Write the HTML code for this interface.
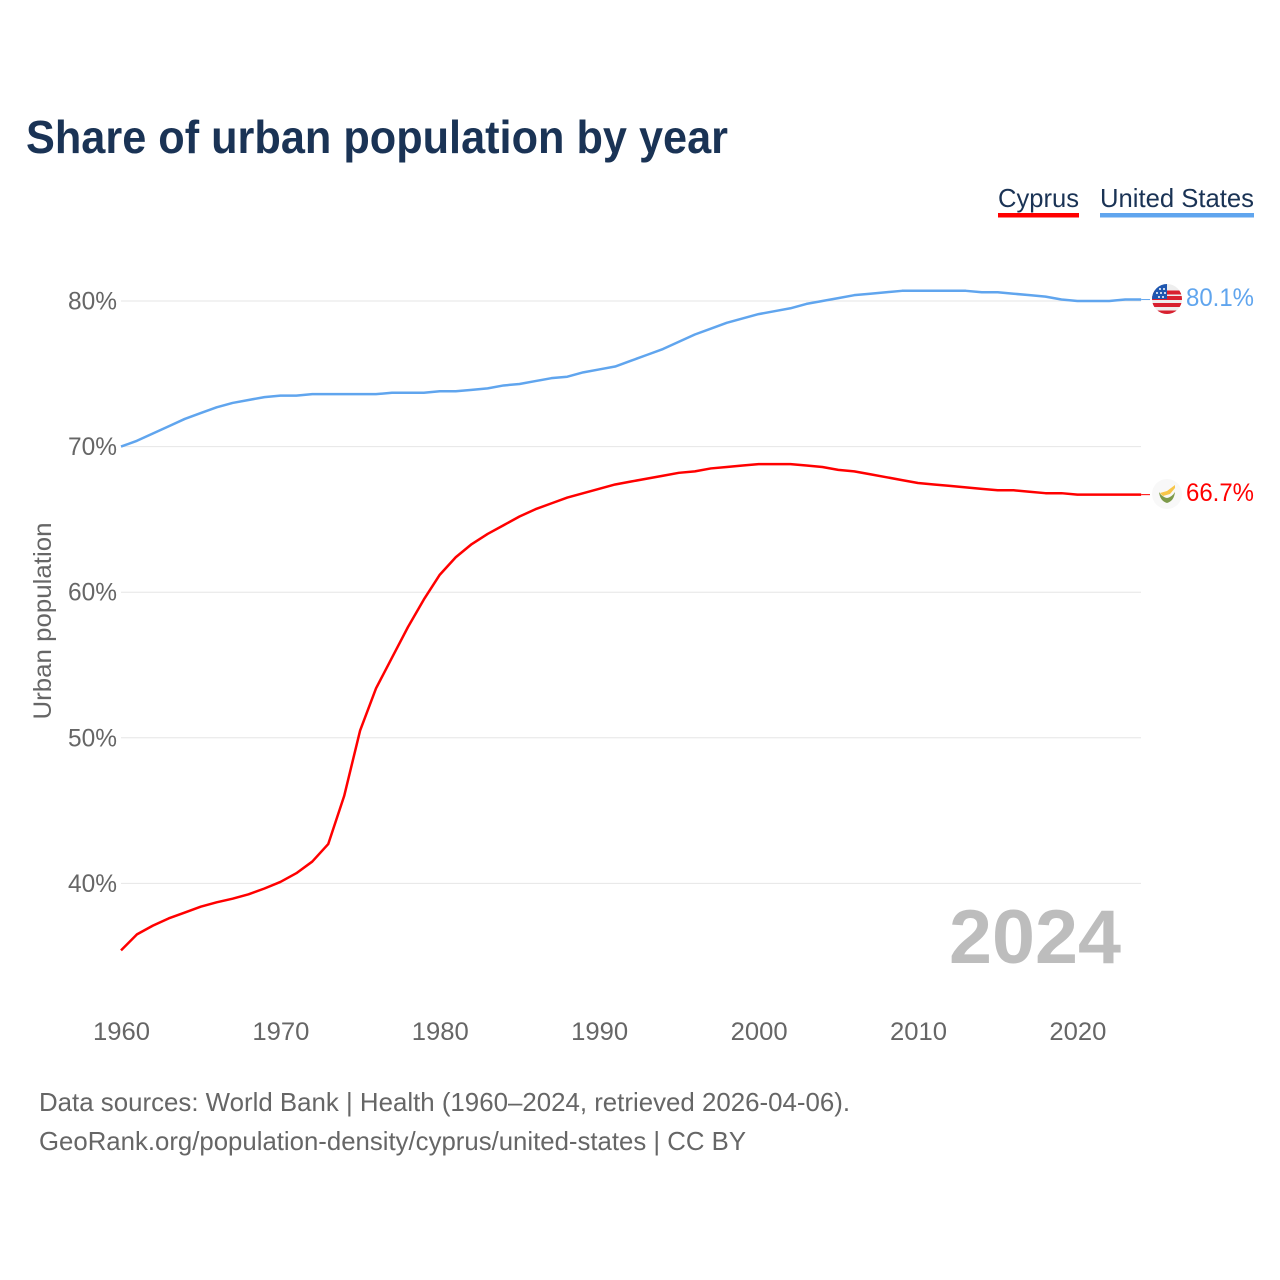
<!DOCTYPE html>
<html lang="en">
<head>
<meta charset="utf-8">
<title>Share of urban population by year</title>
<style>
html,body{margin:0;padding:0;background:#fff;}
svg{display:block;font-family:"Liberation Sans",sans-serif;}
</style>
</head>
<body>
<svg id="chart" width="1280" height="1280" viewBox="0 0 1280 1280" xmlns="http://www.w3.org/2000/svg">
  <defs>
    <clipPath id="us-clip"><circle cx="1167" cy="299" r="15"/></clipPath>
    <clipPath id="cy-clip"><circle cx="1167" cy="494" r="15"/></clipPath>
  </defs>
  <rect x="0" y="0" width="1280" height="1280" fill="#fff"/>
  <text x="26" y="153" font-size="46" font-weight="700" fill="#1a3355" textLength="702" lengthAdjust="spacingAndGlyphs">Share of urban population by year</text>

  <g>
    <text x="998" y="207" font-size="26" fill="#1a3355" textLength="81" lengthAdjust="spacingAndGlyphs">Cyprus</text>
    <rect x="998" y="213" width="81" height="4.5" fill="#ff0000"/>
  </g>
  <g>
    <text x="1100" y="207" font-size="26" fill="#1a3355" textLength="154" lengthAdjust="spacingAndGlyphs">United States</text>
    <rect x="1100" y="213" width="154" height="4.5" fill="#60a5ee"/>
  </g>

  <g id="grid"></g>
  <g id="y-labels"></g>
  <g id="x-labels"></g>
  <text transform="translate(51,621) rotate(-90)" text-anchor="middle" font-size="25" fill="#666" textLength="197" lengthAdjust="spacingAndGlyphs">Urban population</text>
  <text x="949" y="963" font-size="76" font-weight="700" fill="#bdbdbd" textLength="172" lengthAdjust="spacingAndGlyphs">2024</text>

  <g id="series"></g>

  <g clip-path="url(#us-clip)">
    <rect x="1152" y="284" width="30" height="30" fill="#eeeeee"/>
    <rect x="1152" y="290.5" width="30" height="4" fill="#d8202f"/>
    <rect x="1152" y="296" width="30" height="4" fill="#d8202f"/>
    <rect x="1152" y="303" width="30" height="4" fill="#d8202f"/>
    <rect x="1152" y="310.5" width="30" height="5" fill="#d8202f"/>
    <rect x="1152" y="284" width="15" height="15" fill="#1f57b0"/>
    <circle cx="1160" cy="289" r="1" fill="#fff"/><circle cx="1164" cy="289" r="1" fill="#fff"/>
    <circle cx="1157" cy="293" r="1" fill="#fff"/><circle cx="1161" cy="293" r="1" fill="#fff"/><circle cx="1165" cy="293" r="1" fill="#fff"/>
    <circle cx="1159" cy="297" r="1" fill="#fff"/><circle cx="1163" cy="297" r="1" fill="#fff"/>
  </g>
  <g clip-path="url(#cy-clip)">
    <rect x="1152" y="479" width="30" height="30" fill="#f8f8f8"/>
    <path d="M1160 493 L1167 491 L1175 485 L1175 488 L1170 494 L1163 496 Z" fill="#f7c64a"/>
    <path d="M1159 492 Q1160 501 1167 503 Q1174 501 1175 492 Q1172 497 1167 498 Q1162 497 1159 492 Z" fill="#7d9a4a"/>
  </g>

  <text id="us-end-label" x="1186" y="306" font-size="25" fill="#60a5ee" textLength="68" lengthAdjust="spacingAndGlyphs">80.1%</text>
  <text id="cy-end-label" x="1186" y="501" font-size="25" fill="#ff0000" textLength="68" lengthAdjust="spacingAndGlyphs">66.7%</text>

  <text x="39" y="1111" font-size="26" fill="#666" textLength="811" lengthAdjust="spacingAndGlyphs">Data sources: World Bank | Health (1960–2024, retrieved 2026-04-06).</text>
  <text x="39" y="1150" font-size="26" fill="#666" textLength="707" lengthAdjust="spacingAndGlyphs">GeoRank.org/population-density/cyprus/united-states | CC BY</text>
</svg>
<script>
const firstYear = 1960;
const xTickYears = [1960, 1970, 1980, 1990, 2000, 2010, 2020];
const yTickValues = [40, 50, 60, 70, 80];
const unitedStatesValues = [70.0,70.4,70.9,71.4,71.9,72.3,72.7,73.0,73.2,73.4,73.5,73.5,73.6,73.6,73.6,73.6,73.6,73.7,73.7,73.7,73.8,73.8,73.9,74.0,74.2,74.3,74.5,74.7,74.8,75.1,75.3,75.5,75.9,76.3,76.7,77.2,77.7,78.1,78.5,78.8,79.1,79.3,79.5,79.8,80.0,80.2,80.4,80.5,80.6,80.7,80.7,80.7,80.7,80.7,80.6,80.6,80.5,80.4,80.3,80.1,80.0,80.0,80.0,80.1,80.1];
const cyprusValues = [35.4,36.5,37.1,37.6,38.0,38.4,38.7,38.95,39.25,39.65,40.1,40.7,41.5,42.7,46.0,50.5,53.4,55.5,57.6,59.5,61.2,62.4,63.3,64.0,64.6,65.2,65.7,66.1,66.5,66.8,67.1,67.4,67.6,67.8,68.0,68.2,68.3,68.5,68.6,68.7,68.8,68.8,68.8,68.7,68.6,68.4,68.3,68.1,67.9,67.7,67.5,67.4,67.3,67.2,67.1,67.0,67.0,66.9,66.8,66.8,66.7,66.7,66.7,66.7,66.7];

const NS = 'http://www.w3.org/2000/svg';
const xScale = function (year) { return 121 + (year - 1960) * 15.94; };
const yScale = function (value) { return 301 + (80 - value) * 14.56; };

const gridGroup = document.getElementById('grid');
const yLabelGroup = document.getElementById('y-labels');
const xLabelGroup = document.getElementById('x-labels');
const seriesGroup = document.getElementById('series');

yTickValues.forEach(function (tick) {
  const line = document.createElementNS(NS, 'line');
  
  
  line.setAttribute('x1', 121);
  line.setAttribute('x2', 1141);
  line.setAttribute('y1', yScale(tick));
  line.setAttribute('y2', yScale(tick));
  line.setAttribute('stroke', '#e6e6e6');
  line.setAttribute('stroke-width', '1');
  gridGroup.appendChild(line);

  const label = document.createElementNS(NS, 'text');
  
  
  label.setAttribute('x', 68);
  label.setAttribute('y', yScale(tick) + 8.5);
  label.setAttribute('font-size', '25');
  label.setAttribute('fill', '#666');
  label.setAttribute('textLength', '49');
  label.setAttribute('lengthAdjust', 'spacingAndGlyphs');
  label.textContent = tick + '%';
  yLabelGroup.appendChild(label);
});

xTickYears.forEach(function (year) {
  const label = document.createElementNS(NS, 'text');
  
  
  label.setAttribute('x', xScale(year) - 28);
  label.setAttribute('y', 1040);
  label.setAttribute('font-size', '25');
  label.setAttribute('fill', '#666');
  label.setAttribute('textLength', '57');
  label.setAttribute('lengthAdjust', 'spacingAndGlyphs');
  label.textContent = year;
  xLabelGroup.appendChild(label);
});

function drawSeries(values, color, seriesName) {
  const pts = values.map(function (v, i) {
    return xScale(firstYear + i).toFixed(2) + ',' + yScale(v).toFixed(2);
  });
  const lastY = yScale(values[values.length - 1]);
  const leader = document.createElementNS(NS, 'line');
  
  
  leader.setAttribute('x1', xScale(firstYear + values.length - 1));
  leader.setAttribute('x2', 1150);
  leader.setAttribute('y1', lastY);
  leader.setAttribute('y2', lastY);
  leader.setAttribute('stroke', color);
  leader.setAttribute('stroke-width', '1');
  seriesGroup.appendChild(leader);
  const line = document.createElementNS(NS, 'polyline');
  
  
  line.setAttribute('points', pts.join(' '));
  line.setAttribute('fill', 'none');
  line.setAttribute('stroke', color);
  line.setAttribute('stroke-width', '2.5');
  line.setAttribute('stroke-linejoin', 'round');
  seriesGroup.appendChild(line);
}
drawSeries(unitedStatesValues, '#60a5ee', 'united-states');
drawSeries(cyprusValues, '#ff0000', 'cyprus');

document.getElementById('us-end-label').textContent = unitedStatesValues[unitedStatesValues.length - 1].toFixed(1) + '%';
document.getElementById('cy-end-label').textContent = cyprusValues[cyprusValues.length - 1].toFixed(1) + '%';
</script>
</body>
</html>
